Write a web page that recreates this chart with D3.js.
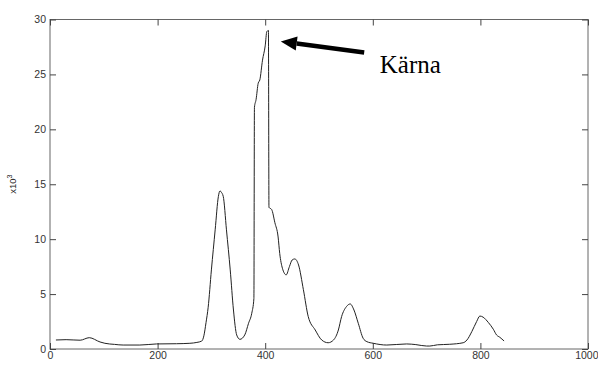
<!DOCTYPE html>
<html>
<head>
<meta charset="utf-8">
<script src="https://d3js.org/d3.v7.min.js"></script>
<style>
body { margin: 0; background: #fff; }
svg { display: block; }
.tick text { font-family: Arial, "Liberation Sans", sans-serif; font-size: 10.5px; fill: #333; }
</style>
</head>
<body>
<svg width="598" height="365"></svg>
<script>
// spectrum values (counts in thousands)
var channel = [11, 30, 56, 73, 93, 102, 120, 136, 167, 198, 235, 260, 273, 282, 286, 290, 294, 300, 307, 313,
  316, 318, 322, 328, 335, 341, 347, 353, 362, 369, 375, 379, 380, 383, 387, 390, 395, 400, 403, 406,
  407, 412, 418, 424, 427, 432, 439, 445, 450, 455, 462, 471, 480, 493, 505, 517, 527, 536, 542, 551,
  558, 565, 573, 582, 589, 601, 626, 663, 680, 700, 706, 720, 743, 768, 775, 784, 793, 799, 805, 815,
  824, 830, 836, 844];
var counts = [0.82, 0.85, 0.80, 1.03, 0.64, 0.52, 0.42, 0.36, 0.36, 0.46, 0.48, 0.52, 0.6, 0.72, 1.2, 2.4, 3.8, 7.2, 10.85, 13.9,
  14.4, 14.3, 13.9, 10.85, 7.2, 3.55, 1.28, 0.88, 1.28, 2.34, 3.25, 4.6, 22.0, 22.7, 24.2, 24.5, 26.3, 27.6, 28.9, 29.0,
  12.9, 12.7, 11.5, 10.2, 8.7, 7.35, 6.75, 7.5, 8.1, 8.2, 7.65, 5.4, 2.95, 1.73, 0.82, 0.57, 0.82, 1.73, 2.95, 3.86,
  4.1, 3.55, 2.34, 0.98, 0.67, 0.52, 0.36, 0.46, 0.40, 0.27, 0.27, 0.38, 0.43, 0.57, 0.82, 1.58, 2.5, 3.0, 2.9, 2.4,
  1.8, 1.28, 1.07, 0.73];
var xTicks = [0, 200, 400, 600, 800, 1000];
var yTicks = [0, 5, 10, 15, 20, 25, 30];

// annotation (arrow tip/tail and label anchor, in data units)
var arrowTip = [429, 28.0];
var arrowTail = [584, 27.0];
var labelPos = [613, 25.1];
var labelText = "Kärna";

var svg = d3.select("svg");
var mLeft = 50, mRight = 588, mTop = 19.5, mBottom = 349;

var x = d3.scaleLinear().domain([0, 1000]).range([mLeft, mRight]);
var y = d3.scaleLinear().domain([0, 30]).range([mBottom, mTop]);

var data = channel.map(function (c, i) { return { x: c, y: counts[i] }; });

// frame
svg.append("rect")
  .attr("x", mLeft).attr("y", mTop)
  .attr("width", mRight - mLeft).attr("height", mBottom - mTop)
  .attr("fill", "none").attr("stroke", "#666").attr("stroke-width", 1);

// axes, ticks inward, mirrored on top/right
function styleAxis(g) {
  g.select(".domain").remove();
  g.selectAll(".tick line").attr("stroke", "#444");
}
var xAxisG = svg.append("g").attr("transform", "translate(0," + mBottom + ")")
  .call(d3.axisBottom(x).tickValues(xTicks).tickSizeInner(-6).tickSizeOuter(0).tickPadding(3).tickFormat(d3.format("d")))
  .call(styleAxis);
// last label sits at the page edge, keep it inside
xAxisG.selectAll(".tick text").filter(function (d) { return d === 1000; })
  .attr("text-anchor", "end").attr("x", 10);
svg.append("g").attr("transform", "translate(0," + mTop + ")")
  .call(d3.axisTop(x).tickValues(xTicks).tickSizeInner(-6).tickSizeOuter(0).tickFormat(""))
  .call(styleAxis);
svg.append("g").attr("transform", "translate(" + mLeft + ",0)")
  .call(d3.axisLeft(y).tickValues(yTicks).tickSizeInner(-6).tickSizeOuter(0).tickPadding(4))
  .call(styleAxis);
svg.append("g").attr("transform", "translate(" + mRight + ",0)")
  .call(d3.axisRight(y).tickValues(yTicks).tickSizeInner(-6).tickSizeOuter(0).tickFormat(""))
  .call(styleAxis);

// y label x10^3
var yl = svg.append("text")
  .attr("transform", "translate(16," + ((mTop + mBottom) / 2) + ") rotate(-90)")
  .attr("text-anchor", "middle")
  .style("font-family", "Arial, 'Liberation Sans', sans-serif")
  .style("font-size", "9.5px").attr("fill", "#222");
yl.append("tspan").text("x10");
yl.append("tspan").attr("dy", -4).style("font-size", "7px").text("3");

// the spectrum
var line = d3.line().curve(d3.curveMonotoneX)
  .x(function (d) { return x(d.x); }).y(function (d) { return y(d.y); });
svg.append("path").datum(data)
  .attr("d", line)
  .attr("fill", "none").attr("stroke", "#222").attr("stroke-width", 1);

// arrow
var tx = x(arrowTip[0]), ty = y(arrowTip[1]);
var sx = x(arrowTail[0]), sy = y(arrowTail[1]);
var ang = Math.atan2(ty - sy, tx - sx);
var headLen = 16, headHalf = 7;
var bx = tx - headLen * Math.cos(ang), by = ty - headLen * Math.sin(ang);
svg.append("line")
  .attr("x1", sx).attr("y1", sy).attr("x2", bx).attr("y2", by)
  .attr("stroke", "#000").attr("stroke-width", 4.5);
svg.append("path")
  .attr("d", "M" + tx + "," + ty +
    "L" + (bx + headHalf * Math.sin(ang)) + "," + (by - headHalf * Math.cos(ang)) +
    "L" + (bx - headHalf * Math.sin(ang)) + "," + (by + headHalf * Math.cos(ang)) + "Z")
  .attr("fill", "#000");

svg.append("text")
  .attr("x", x(labelPos[0])).attr("y", y(labelPos[1]))
  .style("font-family", "'Liberation Serif', 'Times New Roman', serif")
  .style("font-size", "25px").attr("fill", "#000")
  .text(labelText);
</script>
</body>
</html>
